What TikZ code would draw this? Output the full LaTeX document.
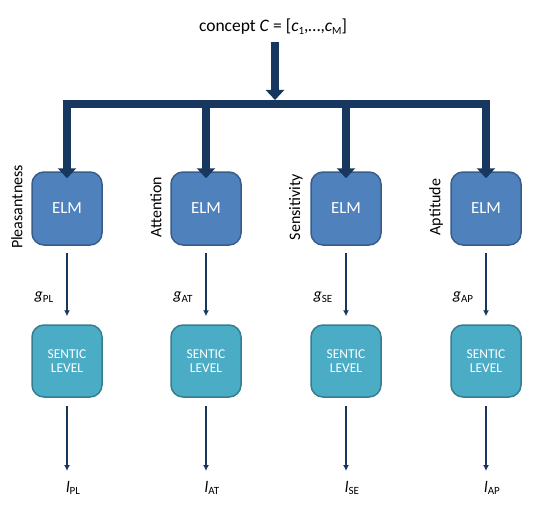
\documentclass[tikz,border=0pt]{standalone}
\usepackage{fontspec}
\setmainfont{Carlito}
\usetikzlibrary{arrows.meta}
\definecolor{navy}{RGB}{23,55,94}
\definecolor{elmfill}{RGB}{79,129,189}
\definecolor{elmdraw}{RGB}{56,93,138}
\definecolor{senfill}{RGB}{75,172,198}
\definecolor{sendraw}{RGB}{53,125,145}
\tikzset{
  elmbox/.style={draw=elmdraw, fill=elmfill, line width=1.5pt, rounded corners=12pt,
    minimum width=70pt, minimum height=73pt, text=white, font=\fontsize{17}{20}\selectfont},
  senbox/.style={draw=sendraw, fill=senfill, line width=1.5pt, rounded corners=12pt,
    minimum width=70pt, minimum height=72pt, text=white, align=center,
    font=\fontsize{13.5}{17}\selectfont},
  bigarrow/.style={draw=navy, line width=8pt, -{Triangle[width=18pt,length=10pt]}},
  thinarrow/.style={draw=navy, line width=2.5pt, -{Latex[width=6pt,length=6pt]}},
  sidelabel/.style={rotate=90, font=\fontsize{16}{19}\selectfont},
  glabel/.style={font=\fontsize{16}{19}\selectfont},
}
\newcommand{\gsub}[2]{\textit{#1}\raisebox{-0.35ex}{\fontsize{11}{13}\selectfont #2}}
\begin{document}
\begin{tikzpicture}[x=1pt,y=-1pt]
\useasboundingbox (0,0) rectangle (540,508);
% top
\node[font=\fontsize{17.5}{20}\selectfont] (concept) at (273,27)
  {concept \textit{C} = [\gsub{c}{1},\dots,\gsub{c}{M}]};
\coordinate (junc) at (275,100);
\draw[bigarrow] (275,42) -- (junc);
% bar
\coordinate (bl) at (67,104);
\coordinate (br) at (486,104);
\draw[draw=navy, line width=8pt] ([xshift=-4pt]bl) -- ([xshift=4pt]br);
% columns
\foreach \i/\x/\nm/\sub in {1/67/Pleasantness/PL, 2/206/Attention/AT, 3/346/Sensitivity/SE, 4/486/Aptitude/AP}{
  \node[elmbox] (e\i) at (\x,208.5) {ELM};
  \node[senbox] (s\i) at (\x,361) {SENTIC\\[-3pt]LEVEL};
  \node[sidelabel] (n\i) at (\x-50,207) {\nm};
  \coordinate (b\i) at (\x,104);
  \draw[bigarrow] (b\i) -- ([yshift=-7pt]e\i.north);
  \draw[thinarrow, shorten <=7pt, shorten >=8pt] (e\i.south) -- (s\i.north);
  \node[glabel] (g\i) at (\x-23,297) {\gsub{g}{\sub}};
  \node[glabel] (l\i) at (\x+6,488) {\gsub{l}{\sub}};
  \draw[thinarrow, shorten <=8pt] (s\i.south) -- (\x,471);
}
\end{tikzpicture}
\end{document}
